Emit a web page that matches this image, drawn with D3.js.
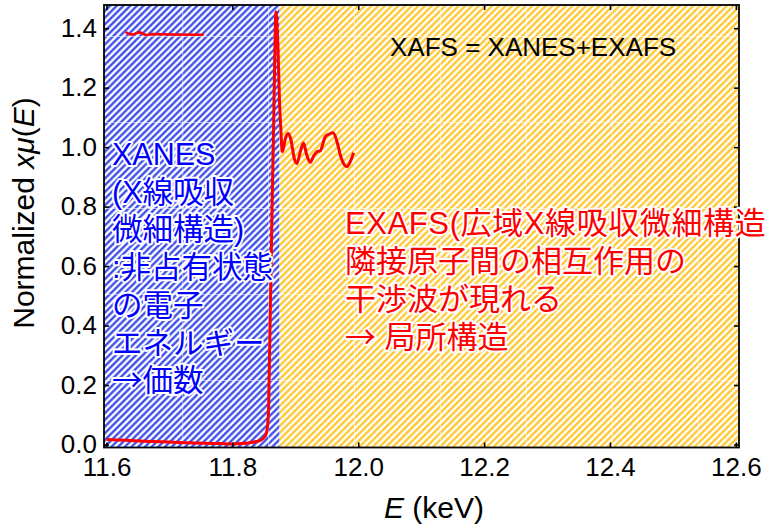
<!DOCTYPE html>
<html>
<head>
<meta charset="utf-8">
<script src="https://cdn.jsdelivr.net/npm/d3@7"></script>
<style>
  html, body { margin: 0; padding: 0; background: #fff; }
  svg { display: block; }
</style>
</head>
<body>
<svg id="chart" width="766" height="528"></svg>
<script>
// Normalized absorption spectrum across the absorption edge (keV vs. normalized x·mu)
const energy = [11.600, 11.630, 11.660, 11.700, 11.740, 11.780, 11.800, 11.815, 11.828, 11.838,
                11.846, 11.851, 11.854, 11.856, 11.8575, 11.859, 11.861, 11.8625, 11.864, 11.8655,
                11.867, 11.868, 11.869, 11.8705, 11.8725, 11.8748, 11.877, 11.8792, 11.8815, 11.885,
                11.889, 11.893, 11.898, 11.9025, 11.908, 11.913, 11.918, 11.9237, 11.929, 11.934,
                11.9397, 11.9476, 11.954, 11.960, 11.966, 11.972, 11.978, 11.982, 11.987, 11.9927];
const absorption = [0.017, 0.014, 0.011, 0.008, 0.005, 0.003, 0.002, 0.003, 0.006, 0.010,
                    0.016, 0.025, 0.038, 0.065, 0.120, 0.300, 0.540, 0.720, 0.900, 1.070,
                    1.260, 1.380, 1.455, 1.430, 1.330, 1.160, 1.060, 0.985, 1.000, 1.035,
                    1.046, 1.025, 0.965, 0.945, 0.985, 1.014, 0.975, 0.949, 0.970, 0.984,
                    0.988, 1.035, 1.044, 1.048, 1.020, 0.970, 0.940, 0.934, 0.950, 0.981];

// Short legend sample of the trace
const legendEnergy = [11.6318, 11.637, 11.6424, 11.648, 11.653, 11.658, 11.6636, 11.669, 11.674, 11.700, 11.7528];
const legendValue  = [1.385, 1.380, 1.379, 1.384, 1.386, 1.381, 1.377, 1.379, 1.380, 1.379, 1.378];

// Shaded regions of the spectrum
const regionNames = ["XANES", "EXAFS"];
const regionStart = [11.596, 11.875];
const regionEnd   = [11.875, 12.605];

// Axis ticks
const xTicks = [11.6, 11.8, 12.0, 12.2, 12.4, 12.6];
const yTicks = [0.0, 0.2, 0.4, 0.6, 0.8, 1.0, 1.2, 1.4];

// Annotation text
const titleText = "XAFS = XANES+EXAFS";
const xanesLines = ["XANES", "(X線吸収", "微細構造)", ":非占有状態", "の電子", "エネルギー", "→価数"];
const exafsLines = ["EXAFS(広域X線吸収微細構造)", "隣接原子間の相互作用の", "干渉波が現れる", "→ 局所構造"];

const svg = d3.select("#chart");
const plot = { left: 104, right: 739, top: 5, bottom: 447.5 };

const x = d3.scaleLinear().domain([11.596, 12.605]).range([plot.left, plot.right]);
const y = d3.scaleLinear().domain([-0.0101, 1.478]).range([plot.bottom, plot.top]);

const defs = svg.append("defs");

// Diagonal hatch fills
function hatch(id, light, core) {
  const p = 4.74;
  const pat = defs.append("pattern")
    .attr("id", id)
    .attr("patternUnits", "userSpaceOnUse")
    .attr("width", p).attr("height", p)
    .attr("patternTransform", "rotate(45)");
  pat.append("rect").attr("width", p).attr("height", p).attr("fill", "#ffffff");
  pat.append("rect").attr("x", 0).attr("width", p * 0.56).attr("height", p).attr("fill", light);
  pat.append("rect").attr("x", p * 0.1).attr("width", p * 0.36).attr("height", p).attr("fill", core);
}
hatch("hatch-xanes", "#9aa3f5", "#2f40e6");
hatch("hatch-exafs", "#ffe49a", "#ffc21e");

defs.append("clipPath").attr("id", "plot-clip")
  .append("rect")
  .attr("x", plot.left).attr("y", plot.top)
  .attr("width", plot.right - plot.left).attr("height", plot.bottom - plot.top);

const regions = regionNames.map((name, i) => ({ name, start: regionStart[i], end: regionEnd[i] }));

svg.append("g").attr("clip-path", "url(#plot-clip)")
  .selectAll("rect")
  .data(regions)
  .join("rect")
  .attr("x", d => x(d.start))
  .attr("y", plot.top)
  .attr("width", d => x(d.end) - x(d.start))
  .attr("height", plot.bottom - plot.top)
  .attr("fill", d => d.name === "XANES" ? "url(#hatch-xanes)" : "url(#hatch-exafs)");

// Faint tile seams in the hatch fill
const seams = svg.append("g").attr("clip-path", "url(#plot-clip)")
  .attr("stroke", "#ffffff").attr("stroke-opacity", 0.55).attr("stroke-width", 1);
for (let sx = 182.7; sx < plot.right; sx += 85.9) {
  seams.append("line").attr("x1", sx).attr("x2", sx).attr("y1", plot.top).attr("y2", plot.bottom);
}
for (let sy = 36.5; sy < plot.bottom; sy += 86) {
  seams.append("line").attr("x1", plot.left).attr("x2", plot.right).attr("y1", sy).attr("y2", sy);
}

// Spectrum trace
const line = d3.line()
  .x(d => x(d[0]))
  .y(d => y(d[1]))
  .curve(d3.curveMonotoneX);

const traceG = svg.append("g").attr("clip-path", "url(#plot-clip)");
traceG.append("path")
  .datum(energy.map((e, i) => [e, absorption[i]]))
  .attr("d", line)
  .attr("fill", "none")
  .attr("stroke", "#ff0000")
  .attr("stroke-width", 3)
  .attr("stroke-linejoin", "round");

traceG.append("path")
  .datum(legendEnergy.map((e, i) => [e, legendValue[i]]))
  .attr("d", line)
  .attr("fill", "none")
  .attr("stroke", "#ff0000")
  .attr("stroke-width", 2.6)
  .attr("stroke-linecap", "round");

// Axes with inward ticks on all four sides
const tickFont = "'Liberation Sans', Arial, sans-serif";
function styleAxis(g) {
  g.select(".domain").remove();
  g.selectAll(".tick line").attr("stroke", "#000").attr("stroke-width", 1.6);
  g.selectAll(".tick text").attr("fill", "#000").style("font-family", tickFont).style("font-size", "26px");
}

svg.append("g")
  .attr("transform", `translate(0,${plot.bottom})`)
  .call(d3.axisBottom(x).tickValues(xTicks).tickFormat(d3.format(".1f"))
    .tickSizeInner(-5).tickSizeOuter(0).tickPadding(10))
  .call(styleAxis);

svg.append("g")
  .attr("transform", `translate(0,${plot.top})`)
  .call(d3.axisTop(x).tickValues(xTicks).tickFormat("")
    .tickSizeInner(-5).tickSizeOuter(0))
  .call(styleAxis);

svg.append("g")
  .attr("transform", `translate(${plot.left},0)`)
  .call(d3.axisLeft(y).tickValues(yTicks).tickFormat(d3.format(".1f"))
    .tickSizeInner(-5).tickSizeOuter(0).tickPadding(7))
  .call(styleAxis);

svg.append("g")
  .attr("transform", `translate(${plot.right},0)`)
  .call(d3.axisRight(y).tickValues(yTicks).tickFormat("")
    .tickSizeInner(-5).tickSizeOuter(0))
  .call(styleAxis);

// Plot frame
svg.append("rect")
  .attr("x", plot.left).attr("y", plot.top)
  .attr("width", plot.right - plot.left).attr("height", plot.bottom - plot.top)
  .attr("fill", "none").attr("stroke", "#000").attr("stroke-width", 1.8);

// Axis titles
const xTitle = svg.append("text")
  .attr("x", 434).attr("y", 518)
  .attr("text-anchor", "middle")
  .style("font-family", tickFont).style("font-size", "30px").attr("fill", "#000");
xTitle.append("tspan").style("font-style", "italic").text("E");
xTitle.append("tspan").text(" (keV)");

const yTitle = svg.append("text")
  .attr("transform", "translate(33.5,213) rotate(-90)")
  .attr("text-anchor", "middle")
  .style("font-family", tickFont).style("font-size", "30px").attr("fill", "#000");
yTitle.append("tspan").text("Normalized ");
yTitle.append("tspan").style("font-style", "italic").text("xμ");
yTitle.append("tspan").text("(");
yTitle.append("tspan").style("font-style", "italic").text("E");
yTitle.append("tspan").text(")");

// Annotations
const annoFont = "'Liberation Sans', 'Noto Sans CJK JP', sans-serif";
const cjkFont = "'Noto Sans CJK JP', sans-serif";

svg.append("text")
  .attr("x", 390).attr("y", 55.5)
  .style("font-family", tickFont).style("font-size", "26px")
  .attr("fill", "#000")
  .text(titleText);

// Each line is split so that arrows use the full-width CJK glyph
function block(lines, x0, y0, step, size, color, firstSpacing) {
  const texts = svg.append("g")
    .selectAll("text")
    .data(lines)
    .join("text")
    .attr("x", x0)
    .attr("y", (d, i) => y0 + i * step)
    .style("font-family", annoFont)
    .style("font-size", size + "px")
    .style("letter-spacing", (d, i) => i === 0 ? firstSpacing + "px" : "0px")
    .attr("fill", color)
    .attr("stroke", "#ffffff")
    .attr("stroke-width", 4)
    .attr("stroke-linejoin", "round")
    .attr("paint-order", "stroke");
  texts.each(function(d) {
    const t = d3.select(this);
    d.split(/(→)/).filter(s => s.length).forEach(part => {
      const span = t.append("tspan").text(part);
      if (part === "→") span.style("font-family", cjkFont);
    });
  });
}
block(xanesLines, 112, 165, 37.7, 30.5, "#0000ff", 0);
block(exafsLines, 345, 234, 38, 31, "#ff0000", 0.6);
</script>
</body>
</html>
